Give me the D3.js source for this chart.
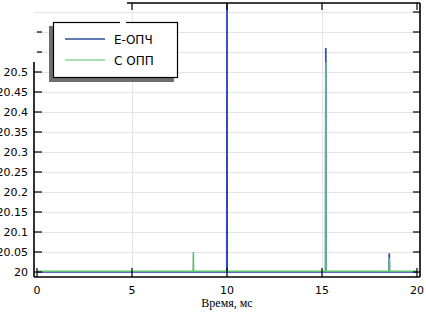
<!DOCTYPE html>
<html>
<head>
<meta charset="utf-8">
<script src="https://cdn.jsdelivr.net/npm/d3@7"></script>
<style>
  html, body { margin: 0; padding: 0; background: #fff; }
  svg { display: block; }
</style>
</head>
<body>
<svg id="chart" width="426" height="312"></svg>
<script>
// ─── Data ────────────────────────────────────────────────────────────────────

const seriesNames = ['Е-ОПЧ', 'С ОПП'];
const seriesColors = ['#2b47c4', '#5cbf6e'];

// time, ms
const blueTime  = [0, 9.99, 10, 10.01, 15.19, 15.2, 15.21, 18.53, 18.54, 18.55, 20];
const blueValue = [20, 20, 21, 20, 20, 20.56, 20, 20, 20.047, 20, 20];

const greenTime  = [0, 8.22, 8.23, 8.24, 15.19, 15.2, 15.21, 18.53, 18.54, 18.55, 20];
const greenValue = [20.002, 20.002, 20.05, 20.002, 20.002, 20.525, 20.002, 20.002, 20.035, 20.002, 20.002];

const xTicks = [0, 5, 10, 15, 20];
const yTicks = [20, 20.05, 20.1, 20.15, 20.2, 20.25, 20.3, 20.35, 20.4, 20.45, 20.5, 20.55, 20.6, 20.65];
const yLabelMax = 20.5;

// ─── Setup ───────────────────────────────────────────────────────────────────

const svg = d3.select('#chart');

const x = d3.scaleLinear().domain([0, 20]).range([37, 417]);
const y = d3.scaleLinear().domain([19.9875, 20.6725]).range([277, 3]);

const L = x(0) - 3, R = x(20) + 3, T = y.range()[1], B = y.range()[0];

svg.append('defs').append('clipPath').attr('id', 'plot-clip')
  .append('rect').attr('x', L).attr('y', T).attr('width', R - L).attr('height', B - T);

// ─── Grid ────────────────────────────────────────────────────────────────────

const grid = svg.append('g').attr('stroke', '#e4e4e4').attr('stroke-width', 1);
grid.selectAll('line.h').data(yTicks).join('line')
  .attr('x1', L).attr('x2', R)
  .attr('y1', d => Math.round(y(d)) + 0.5).attr('y2', d => Math.round(y(d)) + 0.5);
grid.selectAll('line.v').data(xTicks.slice(1, -1)).join('line')
  .attr('y1', T).attr('y2', B)
  .attr('x1', d => Math.round(x(d)) + 0.5).attr('x2', d => Math.round(x(d)) + 0.5);

// ─── Series ──────────────────────────────────────────────────────────────────

const line = d3.line().x(d => x(d[0])).y(d => y(d[1]));
const plot = svg.append('g').attr('clip-path', 'url(#plot-clip)');

plot.append('path')
  .datum(d3.zip(blueTime, blueValue))
  .attr('d', line).attr('fill', 'none')
  .attr('stroke', seriesColors[0]).attr('stroke-width', 1.7);

plot.append('path')
  .datum(d3.zip(greenTime, greenValue))
  .attr('d', line).attr('fill', 'none')
  .attr('stroke', seriesColors[1]).attr('stroke-width', 1.6);

// ─── Axes / frame ────────────────────────────────────────────────────────────

const frame = svg.append('g').attr('stroke', '#000').attr('stroke-width', 1.6).attr('fill', 'none');
frame.append('line').attr('x1', L).attr('x2', R).attr('y1', B).attr('y2', B);   // bottom
frame.append('line').attr('x1', R).attr('x2', R).attr('y1', T).attr('y2', B);   // right
frame.append('line').attr('x1', 127).attr('x2', R).attr('y1', T).attr('y2', T); // top (cut)
frame.append('line').attr('x1', L).attr('x2', L).attr('y1', 62).attr('y2', B);  // left (cut)

const ticks = svg.append('g').attr('stroke', '#000').attr('stroke-width', 1.2);
ticks.selectAll('line.xb').data(xTicks).join('line')
  .attr('x1', d => x(d)).attr('x2', d => x(d)).attr('y1', B).attr('y2', B - 9);
ticks.selectAll('line.xt').data(xTicks.slice(1)).join('line')
  .attr('x1', d => x(d)).attr('x2', d => x(d)).attr('y1', T).attr('y2', T + 7);
ticks.selectAll('line.yl').data(yTicks.filter(d => d < 20.62)).join('line')
  .attr('x1', d => d > yLabelMax ? L + 3 : L).attr('x2', L + 8)
  .attr('y1', d => y(d)).attr('y2', d => y(d));
ticks.selectAll('line.yr').data(yTicks).join('line')
  .attr('x1', R).attr('x2', R - 7).attr('y1', d => y(d)).attr('y2', d => y(d));

const labels = svg.append('g')
  .attr('font-family', '"DejaVu Sans", sans-serif').attr('font-size', 11).attr('fill', '#000');
labels.selectAll('text.x').data(xTicks).join('text')
  .attr('x', d => x(d)).attr('y', 293.5).attr('text-anchor', 'middle').text(d => d);
labels.selectAll('text.y').data(yTicks.filter(d => d <= yLabelMax)).join('text')
  .attr('x', 28).attr('y', d => y(d) + 4).attr('text-anchor', 'end')
  .text(d => d3.format('.2~f')(d));

svg.append('text')
  .attr('x', x(10)).attr('y', 306.5).attr('text-anchor', 'middle')
  .attr('font-family', '"Liberation Serif", serif').attr('font-size', 12)
  .text('Время, мс');

// ─── Legend ──────────────────────────────────────────────────────────────────

const lg = svg.append('g');
lg.append('rect').attr('x', 49).attr('y', 26).attr('width', 125).attr('height', 56).attr('fill', '#6e6e6e');
lg.append('rect').attr('x', 53.5).attr('y', 22.5).attr('width', 124).attr('height', 55)
  .attr('fill', '#fff').attr('stroke', '#000').attr('stroke-width', 1.2);
lg.append('rect').attr('x', 120).attr('y', 21).attr('width', 6).attr('height', 3).attr('fill', '#fff');

seriesNames.forEach((name, i) => {
  const ly = 39 + i * 21;
  lg.append('line').attr('x1', 65).attr('x2', 105).attr('y1', ly).attr('y2', ly)
    .attr('stroke', i === 0 ? '#2f4f9a' : '#8fd49c').attr('stroke-width', 1.6);
  lg.append('text').attr('x', 114).attr('y', ly + 4.5)
    .attr('font-family', '"DejaVu Sans", sans-serif').attr('font-size', 12)
    .text(name);
});
</script>
</body>
</html>
